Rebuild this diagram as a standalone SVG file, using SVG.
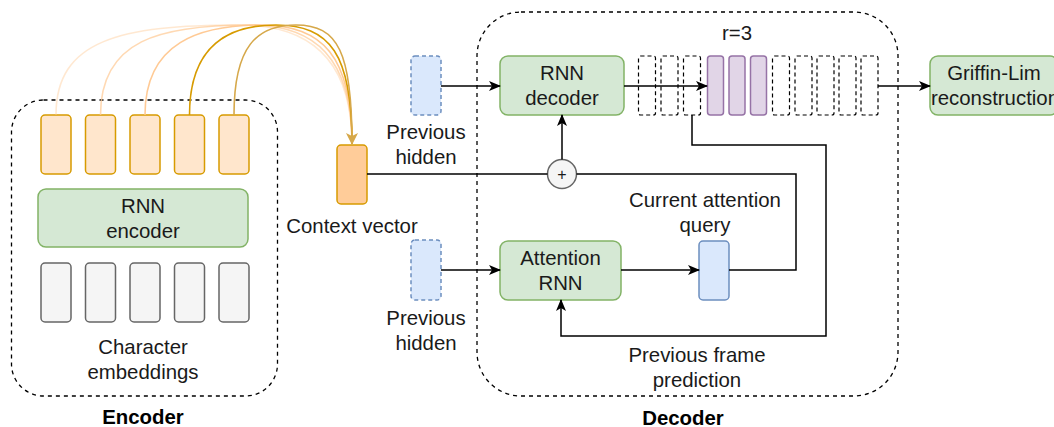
<svg xmlns="http://www.w3.org/2000/svg" width="1054" height="427" viewBox="0 0 1054 427">
  <defs>
    <style>
      text { font-family: "Liberation Sans", Arial, Helvetica, sans-serif; font-size: 20.4px; fill: #1a1a1a; text-anchor: middle; }
      .bold { font-weight: bold; fill: #000; }
      .group { fill: none; stroke: #000; stroke-width: 1.3; stroke-dasharray: 4 4; }
      .frame { fill: none; stroke: #000; stroke-width: 1.2; stroke-dasharray: 4 3; }
      .enc-out { fill: #ffe6cc; stroke: #d79b00; stroke-width: 1.5; }
      .ctx { fill: #ffcc99; stroke: #d79b00; stroke-width: 1.5; }
      .rnn { fill: #d5e8d4; stroke: #82b366; stroke-width: 1.5; }
      .emb { fill: #f5f5f5; stroke: #666666; stroke-width: 1.5; }
      .hid { fill: #dae8fc; stroke: #6c8ebf; stroke-width: 1.5; stroke-dasharray: 4 3; }
      .query { fill: #dae8fc; stroke: #6c8ebf; stroke-width: 1.5; }
      .frm { fill: #e1d5e7; stroke: #9673a6; stroke-width: 1.5; }
      .wire { fill: none; stroke: #000; stroke-width: 1.5; }
      .attn { fill: none; stroke-width: 1.6; }
    </style>
    <marker id="arrow" viewBox="0 0 12 10" refX="11" refY="5" markerWidth="12" markerHeight="10" markerUnits="userSpaceOnUse" orient="auto">
      <path d="M0,0 L12,5 L0,10 L3,5 z" fill="#000"/>
    </marker>
    <marker id="arrow-gold" viewBox="0 0 12 12" refX="6" refY="11" markerWidth="12" markerHeight="12" markerUnits="userSpaceOnUse" orient="0">
      <path d="M0,0 L6,3 L12,0 L6,12 z" fill="#d6a84a"/>
    </marker>
  </defs>

  <!-- Encoder block -->
  <g id="encoder">
    <rect class="group" x="11.5" y="100" width="266" height="296" rx="32"/>
    <text class="bold" x="143" y="424">Encoder</text>
  </g>
  <g id="encoder-outputs">
    <rect class="enc-out" x="41" y="115" width="30" height="59" rx="4"/>
    <rect class="enc-out" x="85.5" y="115" width="30" height="59" rx="4"/>
    <rect class="enc-out" x="130" y="115" width="30" height="59" rx="4"/>
    <rect class="enc-out" x="174.5" y="115" width="30" height="59" rx="4"/>
    <rect class="enc-out" x="219" y="115" width="30" height="59" rx="4"/>
  </g>
  <g id="rnn-encoder">
    <rect class="rnn" x="38" y="189" width="210" height="58" rx="8"/>
    <text x="143" y="213">RNN</text>
    <text x="143" y="238">encoder</text>
  </g>
  <g id="char-embeddings">
    <rect class="emb" x="41" y="263" width="30" height="59" rx="4"/>
    <rect class="emb" x="85.5" y="263" width="30" height="59" rx="4"/>
    <rect class="emb" x="130" y="263" width="30" height="59" rx="4"/>
    <rect class="emb" x="174.5" y="263" width="30" height="59" rx="4"/>
    <rect class="emb" x="219" y="263" width="30" height="59" rx="4"/>
    <text x="143" y="354">Character</text>
    <text x="143" y="379">embeddings</text>
  </g>

  <!-- Context vector -->
  <g id="context-vector">
    <rect class="ctx" x="337" y="145" width="30" height="59" rx="4"/>
    <text x="352" y="233">Context vector</text>
  </g>

  <!-- Decoder block -->
  <g id="decoder">
    <rect class="group" x="477" y="12" width="421" height="384" rx="44"/>
    <text class="bold" x="683" y="425">Decoder</text>
  </g>
  <g id="prev-hidden-top">
    <rect class="hid" x="411" y="56" width="30" height="59" rx="4"/>
    <text x="426" y="139">Previous</text>
    <text x="426" y="164">hidden</text>
  </g>
  <g id="prev-hidden-bottom">
    <rect class="hid" x="411" y="240" width="30" height="60" rx="4"/>
    <text x="426" y="325">Previous</text>
    <text x="426" y="350">hidden</text>
  </g>
  <g id="rnn-decoder">
    <rect class="rnn" x="500" y="56" width="124" height="59" rx="8"/>
    <text x="562" y="80">RNN</text>
    <text x="562" y="105">decoder</text>
  </g>
  <g id="attention-rnn">
    <rect class="rnn" x="500" y="241" width="121" height="59" rx="8"/>
    <text x="560.5" y="265">Attention</text>
    <text x="560.5" y="290">RNN</text>
  </g>
  <g id="attention-query">
    <rect class="query" x="699" y="241" width="30" height="59" rx="4"/>
    <text x="705" y="207">Current attention</text>
    <text x="705" y="232">query</text>
  </g>
  <g id="sum">
    <circle cx="562" cy="174" r="14.5" fill="#f5f5f5" stroke="#666666" stroke-width="1.5"/>
    <text x="562" y="180" style="font-size:16px">+</text>
  </g>
  <g id="output-frames">
    <rect class="frame" x="638.5" y="56" width="17" height="59" rx="2"/>
    <rect class="frame" x="661" y="56" width="17" height="59" rx="2"/>
    <rect class="frame" x="683.5" y="56" width="17" height="59" rx="2"/>
    <rect class="frm" x="707.5" y="56" width="16" height="59" rx="3"/>
    <rect class="frm" x="729" y="56" width="16" height="59" rx="3"/>
    <rect class="frm" x="750.5" y="56" width="16" height="59" rx="3"/>
    <rect class="frame" x="772.5" y="56" width="17" height="59" rx="2"/>
    <rect class="frame" x="795" y="56" width="17" height="59" rx="2"/>
    <rect class="frame" x="817" y="56" width="17" height="59" rx="2"/>
    <rect class="frame" x="839" y="56" width="17" height="59" rx="2"/>
    <rect class="frame" x="861" y="56" width="17" height="59" rx="2"/>
    <text x="737" y="40">r=3</text>
  </g>
  <g id="griffin-lim">
    <rect class="rnn" x="930" y="56" width="128" height="59" rx="8"/>
    <text x="994" y="80">Griffin-Lim</text>
    <text x="995" y="105">reconstruction</text>
  </g>
  <g id="frame-label">
    <text x="697" y="362">Previous frame</text>
    <text x="697" y="387">prediction</text>
  </g>

  <!-- Connectors -->
  <g id="connectors">
    <!-- attention weights: encoder outputs to context vector -->
    <path class="attn" stroke="#ffcc99" stroke-opacity="0.45" d="M56,115 C56,40 120,25 240,25 C310,25 352,60 352,144"/>
    <path class="attn" stroke="#ffcc99" stroke-opacity="0.75" d="M100.5,115 C100.5,40 160,25 250,25 C315,25 352,58 352,144"/>
    <path class="attn" stroke="#ffc78f" stroke-opacity="0.95" d="M145,115 C145,42 200,25 262,25 C322,25 352,56 352,144"/>
    <path class="attn" stroke="#d79b00" d="M189.5,115 C189.5,44 230,25 276,25 C330,25 352,54 352,144"/>
    <path class="attn" stroke="#d6a84a" marker-end="url(#arrow-gold)" d="M234,115 C234,46 257,25 296,25 C338,25 352,52 352,144"/>

    <path class="wire" marker-end="url(#arrow)" d="M441,86 H500"/>
    <path class="wire" marker-end="url(#arrow)" d="M624,86 H707"/>
    <path class="wire" marker-end="url(#arrow)" d="M878,86 H930"/>
    <path class="wire" marker-end="url(#arrow)" d="M441,270 H500"/>
    <path class="wire" marker-end="url(#arrow)" d="M621,270 H699"/>
    <path class="wire" d="M367,174 H547.5"/>
    <path class="wire" d="M729,270 H796 V174 H576.5"/>
    <path class="wire" marker-end="url(#arrow)" d="M562,159.5 V115"/>
    <path class="wire" marker-end="url(#arrow)" d="M692,115 V145 H826 V336 H561 V300"/>
  </g>
</svg>
